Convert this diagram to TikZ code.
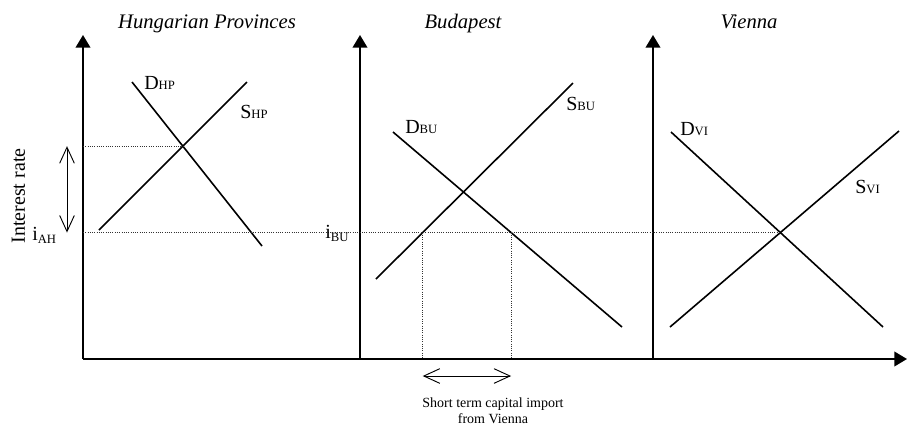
\documentclass[tikz,border=0pt]{standalone}
\usepackage{fontspec}
\setmainfont{Liberation Serif}
\usetikzlibrary{arrows.meta}

\newcommand\curvelbl[2]{#1{\fontsize{9.5}{10}\selectfont #2}}
\newcommand\ratelbl[2]{#1\raisebox{-2.5pt}{\fontsize{9.5}{10}\selectfont #2}}

\begin{document}
\begin{tikzpicture}[x=0.75pt,y=-0.75pt,>={Triangle[width=11pt,length=9.5pt]},
  axis/.style={line width=1.3pt,->},
  curve/.style={line width=1.2pt},
  guide/.style={densely dotted,line width=0.7pt,black!80},
  span/.style={line width=0.7pt,{Straight Barb[length=12pt,width=11pt]}-{Straight Barb[length=12pt,width=11pt]}},
  title/.style={font=\fontsize{15.5}{18}\selectfont\itshape,anchor=base},
  lbl/.style={font=\fontsize{15}{17}\selectfont,inner sep=0pt,anchor=base west}]
\useasboundingbox (0,0) rectangle (908,430);

% axes
\coordinate (o) at (83,359);
\coordinate (xend) at (907,359);
\coordinate (hpTop) at (83,35);
\coordinate (bu0) at (360,359);
\coordinate (buTop) at (360,35);
\coordinate (vi0) at (653,359);
\coordinate (viTop) at (653,35);
\draw[axis] (o) -- (xend);
\draw[axis] (o) -- (hpTop);
\draw[axis] (bu0) -- (buTop);
\draw[axis] (vi0) -- (viTop);

% Hungarian Provinces
\coordinate (dhp1) at (132,82);
\coordinate (dhp2) at (262,246);
\coordinate (shp1) at (99,230);
\coordinate (shp2) at (247,82);
\draw[curve] (dhp1) -- (dhp2);
\draw[curve] (shp1) -- (shp2);
\coordinate (eqHP) at (intersection of dhp1--dhp2 and shp1--shp2);

% Budapest
\coordinate (dbu1) at (393,132);
\coordinate (dbu2) at (622,327);
\coordinate (sbu1) at (376,279);
\coordinate (sbu2) at (573,83);
\draw[curve] (dbu1) -- (dbu2);
\draw[curve] (sbu1) -- (sbu2);

% Vienna
\coordinate (dvi1) at (671,132);
\coordinate (dvi2) at (883,327);
\coordinate (svi1) at (670,327);
\coordinate (svi2) at (899,131);
\draw[curve] (dvi1) -- (dvi2);
\draw[curve] (svi1) -- (svi2);
\coordinate (eqVI) at (intersection of dvi1--dvi2 and svi1--svi2);

% interest rate levels
\coordinate (hiLvl) at (o |- eqHP);
\coordinate (loLvl) at (o |- eqVI);
\draw[guide] (hiLvl) -- (eqHP);
\draw[guide] (loLvl) -- (eqVI);
\coordinate (impL) at (intersection of sbu1--sbu2 and loLvl--eqVI);
\coordinate (impR) at (intersection of dbu1--dbu2 and loLvl--eqVI);
\draw[guide] (impL) -- (impL |- o);
\draw[guide] (impR) -- (impR |- o);

% spans
\coordinate (gapx) at (67,0);
\draw[span] (gapx |- eqHP) -- (gapx |- eqVI);
\coordinate (arrY) at (0,376);
\draw[span] (impL |- arrY) -- (impR |- arrY);

% texts
\node[title] (tHP) at (207,28) {Hungarian Provinces};
\node[title] (tBU) at (463,28) {Budapest};
\node[title] (tVI) at (749,28) {Vienna};
\node[lbl] (lDHP) at (144,89) {\curvelbl{D}{HP}};
\node[lbl] (lSHP) at (240,118) {\curvelbl{S}{HP}};
\node[lbl] (lDBU) at (405,133) {\curvelbl{D}{BU}};
\node[lbl] (lSBU) at (566,110) {\curvelbl{S}{BU}};
\node[lbl] (lDVI) at (680,135) {\curvelbl{D}{VI}};
\node[lbl] (lSVI) at (855,193) {\curvelbl{S}{VI}};
\node[lbl] (iAH) at (32,240) {\ratelbl{i}{AH}};
\node[lbl] (iBU) at (325,238) {\ratelbl{i}{BU}};
\node[rotate=90,anchor=base,inner sep=0pt,font=\fontsize{15}{17}\selectfont] (yLbl) at (25,196) {Interest rate};
\node[anchor=north,align=center,inner sep=0pt,font=\fontsize{10.5}{12}\selectfont] (imp) at (493,398)
  {Short term capital import\\from Vienna};
\end{tikzpicture}
\end{document}
